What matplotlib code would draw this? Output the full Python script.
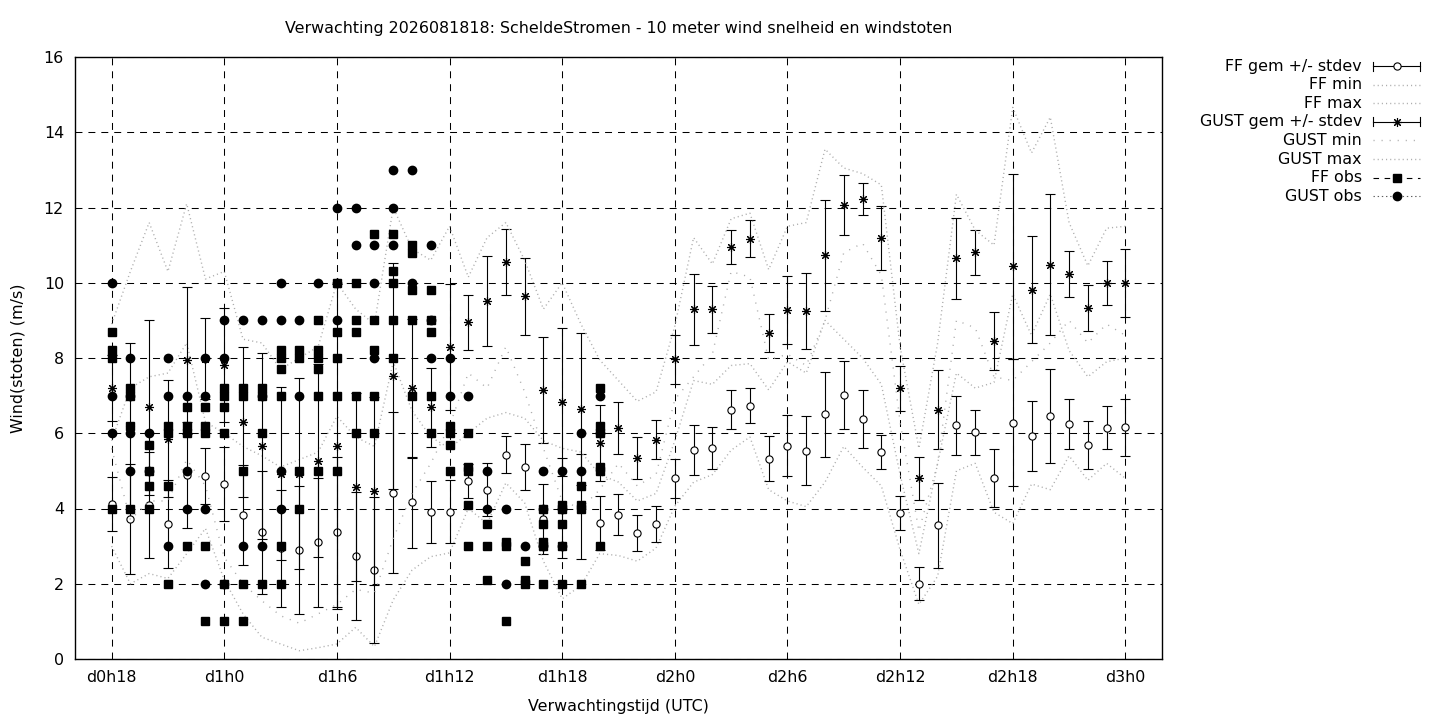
import matplotlib
matplotlib.use('Agg')
import matplotlib.pyplot as plt
import numpy as np

plt.rcParams['font.family'] = ['DejaVu Sans']
plt.rcParams['lines.scale_dashes'] = False

# ---------------- data ----------------
title = "Verwachting 2026081818: ScheldeStromen - 10 meter wind snelheid en windstoten"
xlabel = "Verwachtingstijd (UTC)"
ylabel = "Wind(stoten) (m/s)"

hours = list(range(55))  # forecast hours after d0h18
tick_hours = [0, 6, 12, 18, 24, 30, 36, 42, 48, 54]
tick_labels = ['d0h18', 'd1h0', 'd1h6', 'd1h12', 'd1h18', 'd2h0', 'd2h6', 'd2h12', 'd2h18', 'd3h0']

ff_mean = [4.12, 3.72, 4.09, 3.59, 4.89, 4.86, 4.65, 3.83, 3.37, 2.94,
           2.90, 3.10, 3.37, 2.74, 2.36, 4.42, 4.16, 3.90, 3.91, 4.74,
           4.50, 5.43, 5.10, 3.73, 4.02, 4.05, 3.62, 3.84, 3.36, 3.58,
           4.80, 5.56, 5.61, 6.62, 6.73, 5.32, 5.67, 5.54, 6.51, 7.02,
           6.38, 5.50, 3.87, 2.00, 3.55, 6.21, 6.03, 4.80, 6.28, 5.92,
           6.46, 6.25, 5.69, 6.15, 6.16]
ff_sd = [0.72, 1.45, 1.40, 1.16, 1.42, 0.74, 0.99, 1.33, 1.63, 1.55,
         1.70, 1.71, 2.00, 1.70, 1.94, 2.14, 1.22, 0.82, 0.84, 0.45,
         0.70, 0.49, 0.61, 0.93, 1.33, 1.40, 0.72, 0.55, 0.48, 0.48,
         0.51, 0.66, 0.56, 0.52, 0.46, 0.60, 0.81, 0.92, 1.13, 0.90,
         0.78, 0.45, 0.45, 0.44, 1.13, 0.78, 0.60, 0.77, 1.69, 0.93,
         1.26, 0.67, 0.63, 0.57, 0.76]
gust_mean = [7.20, 6.20, 6.69, 5.86, 7.94, 7.98, 7.81, 6.29, 5.66, 4.93,
             4.93, 5.27, 5.66, 4.56, 4.47, 7.52, 7.19, 6.69, 8.30, 8.95,
             9.51, 10.56, 9.64, 7.15, 6.83, 6.64, 5.74, 6.14, 5.34, 5.83,
             7.97, 9.29, 9.29, 10.95, 11.17, 8.66, 9.27, 9.25, 10.73, 12.07,
             12.23, 11.20, 7.20, 4.80, 6.63, 10.65, 10.81, 8.45, 10.44, 9.82,
             10.48, 10.23, 9.33, 10.00, 10.00]
gust_sd = [0.88, 2.20, 2.32, 1.55, 1.95, 1.07, 1.52, 1.99, 2.48, 2.30,
           2.53, 2.56, 4.32, 2.50, 2.50, 3.00, 1.85, 1.05, 1.68, 0.73,
           1.20, 0.88, 1.03, 1.40, 1.97, 2.02, 1.00, 0.70, 0.55, 0.51,
           0.65, 0.95, 0.62, 0.44, 0.49, 0.51, 0.91, 1.00, 1.48, 0.80,
           0.42, 0.85, 0.60, 0.58, 1.06, 1.07, 0.60, 0.76, 2.46, 1.42,
           1.87, 0.62, 0.60, 0.58, 0.90]
ff_min = [3.00, 2.00, 2.27, 2.14, 2.80, 3.47, 2.10, 1.20, 0.58, 0.40,
          0.22, 0.30, 0.40, 0.84, 0.33, 1.57, 2.36, 2.72, 2.82, 4.00,
          3.60, 4.68, 4.15, 2.60, 1.60, 1.95, 2.80, 2.75, 2.60, 2.95,
          4.06, 4.70, 4.90, 5.55, 5.90, 4.50, 4.20, 4.05, 4.70, 5.65,
          5.10, 4.60, 2.90, 1.45, 2.20, 5.00, 5.20, 3.90, 3.60, 4.65,
          4.50, 5.40, 4.75, 5.20, 4.80]
ff_max = [5.80, 7.20, 7.50, 7.60, 8.40, 6.30, 6.00, 5.65, 5.40, 5.10,
          5.30, 5.50, 6.45, 5.90, 5.65, 7.90, 6.60, 5.90, 5.60, 6.00,
          6.40, 6.55, 6.40, 5.80, 5.60, 5.50, 4.90, 4.70, 4.20, 4.40,
          5.80, 7.40, 7.30, 7.80, 7.85, 7.15, 7.90, 7.60, 9.00, 8.50,
          8.00, 7.30, 4.90, 2.80, 5.20, 7.60, 7.20, 7.35, 9.70, 8.60,
          9.70, 8.20, 7.50, 7.90, 8.00]
gust_min = [5.60, 3.70, 4.20, 4.20, 5.30, 4.60, 2.70, 2.00, 1.55, 1.15,
            0.95, 1.20, 1.45, 1.85, 1.75, 3.20, 4.40, 5.20, 6.20, 7.60,
            7.20, 8.30, 7.10, 5.60, 4.20, 4.00, 4.50, 5.20, 4.60, 4.90,
            6.90, 7.50, 8.10, 10.30, 10.15, 7.95, 8.10, 7.80, 9.00, 10.80,
            11.05, 10.20, 6.30, 3.40, 5.20, 9.00, 8.80, 7.50, 7.40, 7.90,
            8.40, 9.00, 8.40, 8.90, 8.60]
gust_max = [8.90, 10.30, 11.60, 10.30, 12.10, 10.10, 10.30, 8.50, 8.40, 7.70,
            8.00, 8.30, 10.00, 9.30, 8.90, 12.00, 10.90, 10.60, 11.50, 10.15,
            11.20, 11.60, 10.60, 9.30, 10.00, 8.90, 7.95, 7.40, 6.85, 7.10,
            8.85, 11.20, 10.50, 11.70, 11.85, 10.35, 11.50, 11.60, 13.55, 13.05,
            12.90, 12.60, 8.30, 5.60, 8.40, 12.35, 11.40, 11.00, 14.66, 13.45,
            14.40, 11.60, 10.45, 11.45, 11.50]

obs_hours = list(range(27))
ff_obs = [[8.7, 8.2, 8.0, 4.0], [7.2, 7.0, 6.2, 4.0], [5.7, 5.0, 4.6, 4.0],
          [6.2, 6.0, 4.6, 2.0], [6.7, 6.2, 6.0, 3.0], [6.7, 6.2, 6.0, 3.0, 1.0],
          [7.2, 7.0, 6.7, 6.0, 2.0, 1.0], [7.2, 7.0, 5.0, 2.0, 1.0], [7.2, 7.0, 6.0, 2.0],
          [8.2, 8.0, 7.7, 7.0, 3.0, 2.0], [8.2, 8.0, 5.0, 4.0], [9.0, 8.2, 8.0, 7.7, 7.0, 5.0],
          [10.0, 8.7, 8.0, 7.0, 5.0], [10.0, 9.0, 8.7, 7.0, 6.0], [11.3, 9.0, 8.2, 7.0, 6.0],
          [11.3, 10.3, 10.0, 9.0, 8.0], [11.0, 10.8, 9.8, 9.0, 7.0], [9.8, 9.0, 8.7, 7.0, 6.0],
          [6.2, 6.0, 5.7, 5.0], [6.0, 5.1, 5.0, 4.1, 3.0], [3.6, 3.0, 2.1],
          [3.1, 3.0, 1.0], [2.6, 2.1, 2.0], [4.0, 3.6, 3.1, 3.0, 2.0],
          [4.1, 4.0, 3.6, 3.0, 2.0], [4.6, 4.1, 4.0, 2.0], [7.2, 6.2, 6.0, 5.1, 5.0, 3.0]]
gust_obs = [[10.0, 7.0, 6.0], [8.0, 7.0, 6.0, 5.0], [6.0, 5.0],
            [8.0, 7.0, 3.0], [7.0, 5.0, 4.0], [8.0, 7.0, 4.0, 2.0],
            [9.0, 8.0, 2.0], [9.0, 3.0], [9.0, 7.0, 3.0],
            [10.0, 9.0, 5.0, 4.0], [9.0, 7.0], [10.0],
            [12.0, 10.0, 9.0], [12.0, 11.0], [11.0, 10.0, 8.0],
            [13.0, 12.0, 11.0], [13.0, 10.0], [11.0, 9.0, 8.0],
            [8.0, 7.0], [7.0], [5.0, 4.0],
            [4.0, 2.0], [3.0], [5.0, 4.0, 3.0],
            [5.0, 4.0, 3.0], [6.0, 5.0], [7.0, 6.0]]

legend_labels = ["FF gem +/- stdev", "FF min", "FF max", "GUST gem +/- stdev",
                 "GUST min", "GUST max", "FF obs", "GUST obs"]

# ---------------- styles ----------------
W, H = 1440, 720
L, R, T, B = 75, 1162, 57, 659
GRAY = '#adadad'
FINE_DOT = (0, (0.8, 2.2))
SPARSE_DOT = (0, (0.8, 5.0))
GRID_DASH = (0, (5.0, 4.3))
STAR = (8, 2, 0)
FS = 11.4

fig = plt.figure(figsize=(W / 100, H / 100), dpi=100)
ax = fig.add_axes([L / W, 1 - B / H, (R - L) / W, (B - T) / H])

hrs = np.array(hours, dtype=float)
ax.set_xlim(-1.95, 55.95)
ax.set_ylim(0, 16)
ax.set_xticks(tick_hours)
ax.set_xticklabels(tick_labels)
ax.set_yticks(range(0, 17, 2))
ax.tick_params(direction='in', length=0, labelsize=FS, pad=8)
ax.tick_params(axis='x', pad=8)
ax.grid(True, color='black', linewidth=0.75, linestyle=GRID_DASH)
ax.set_axisbelow(True)
for s in ax.spines.values():
    s.set_linewidth(1.0)

# FF mean +/- stdev
ax.errorbar(hrs, ff_mean, yerr=ff_sd, fmt='o', ms=5.2, mfc='white', mec='black', mew=0.8,
            ecolor='black', elinewidth=0.8, capsize=3.4, capthick=0.8, zorder=3)
# FF min / max
ax.plot(hrs, ff_min, color=GRAY, lw=1.0, linestyle=FINE_DOT, zorder=3)
ax.plot(hrs, ff_max, color=GRAY, lw=1.0, linestyle=FINE_DOT, zorder=3)
# GUST mean +/- stdev
ax.errorbar(hrs, gust_mean, yerr=gust_sd, fmt='none', ecolor='black', elinewidth=0.8,
            capsize=3.4, capthick=0.8, zorder=4)
ax.plot(hrs, gust_mean, linestyle='none', marker=STAR, ms=6.5, mec='black', mew=0.8, zorder=4)
# GUST min / max
ax.plot(hrs, gust_min, color=GRAY, lw=1.0, linestyle=SPARSE_DOT, zorder=4)
ax.plot(hrs, gust_max, color=GRAY, lw=1.0, linestyle=FINE_DOT, zorder=4)
# observations
for h, vals in zip(obs_hours, ff_obs):
    ax.plot([h] * len(vals), vals, linestyle='none', marker='s', ms=6.3, color='black', zorder=5)
for h, vals in zip(obs_hours, gust_obs):
    ax.plot([h] * len(vals), vals, linestyle='none', marker='o', ms=6.0, color='black', zorder=6)

# texts
fig.text(618.5 / W, 1 - 29 / H, title, ha='center', va='center', fontsize=FS)
fig.text(618.5 / W, 1 - 706 / H, xlabel, ha='center', va='center', fontsize=FS)
fig.text(18 / W, 1 - 358 / H, ylabel, ha='center', va='center', rotation=90, fontsize=FS)

# legend (drawn by hand, gnuplot style)
lax = fig.add_axes([0, 0, 1, 1])
lax.set_xlim(0, W)
lax.set_ylim(H, 0)
lax.axis('off')
x0, x1, xc, xt = 1373, 1420, 1396.5, 1362
for i, lab in enumerate(legend_labels):
    y = 66 + i * 18.6
    lax.text(xt, y, lab, ha='right', va='center', fontsize=FS)
    if i in (0, 3):
        lax.plot([x0, x1], [y, y], color='black', lw=0.8)
        lax.plot([x0, x0], [y - 4.5, y + 4.5], color='black', lw=0.8)
        lax.plot([x1, x1], [y - 4.5, y + 4.5], color='black', lw=0.8)
        if i == 0:
            lax.plot([xc], [y], marker='o', ms=5.2, mfc='white', mec='black', mew=0.8)
        else:
            lax.plot([xc], [y], marker=STAR, ms=6.5, mec='black', mew=0.8)
    elif i in (1, 2, 5):
        lax.plot([x0, x1], [y, y], color=GRAY, lw=1.0, linestyle=FINE_DOT)
    elif i == 4:
        lax.plot([x0, x1], [y, y], color=GRAY, lw=1.0, linestyle=SPARSE_DOT)
    elif i == 6:
        lax.plot([x0, x1], [y, y], color='black', lw=0.8, linestyle=(0, (4, 4)))
        lax.plot([xc], [y], marker='s', ms=6.3, color='black')
    else:
        lax.plot([x0, x1], [y, y], color='#606060', lw=0.8, linestyle=(0, (1, 2)))
        lax.plot([xc], [y], marker='o', ms=6.0, color='black')

fig.savefig('out.png', dpi=100)
